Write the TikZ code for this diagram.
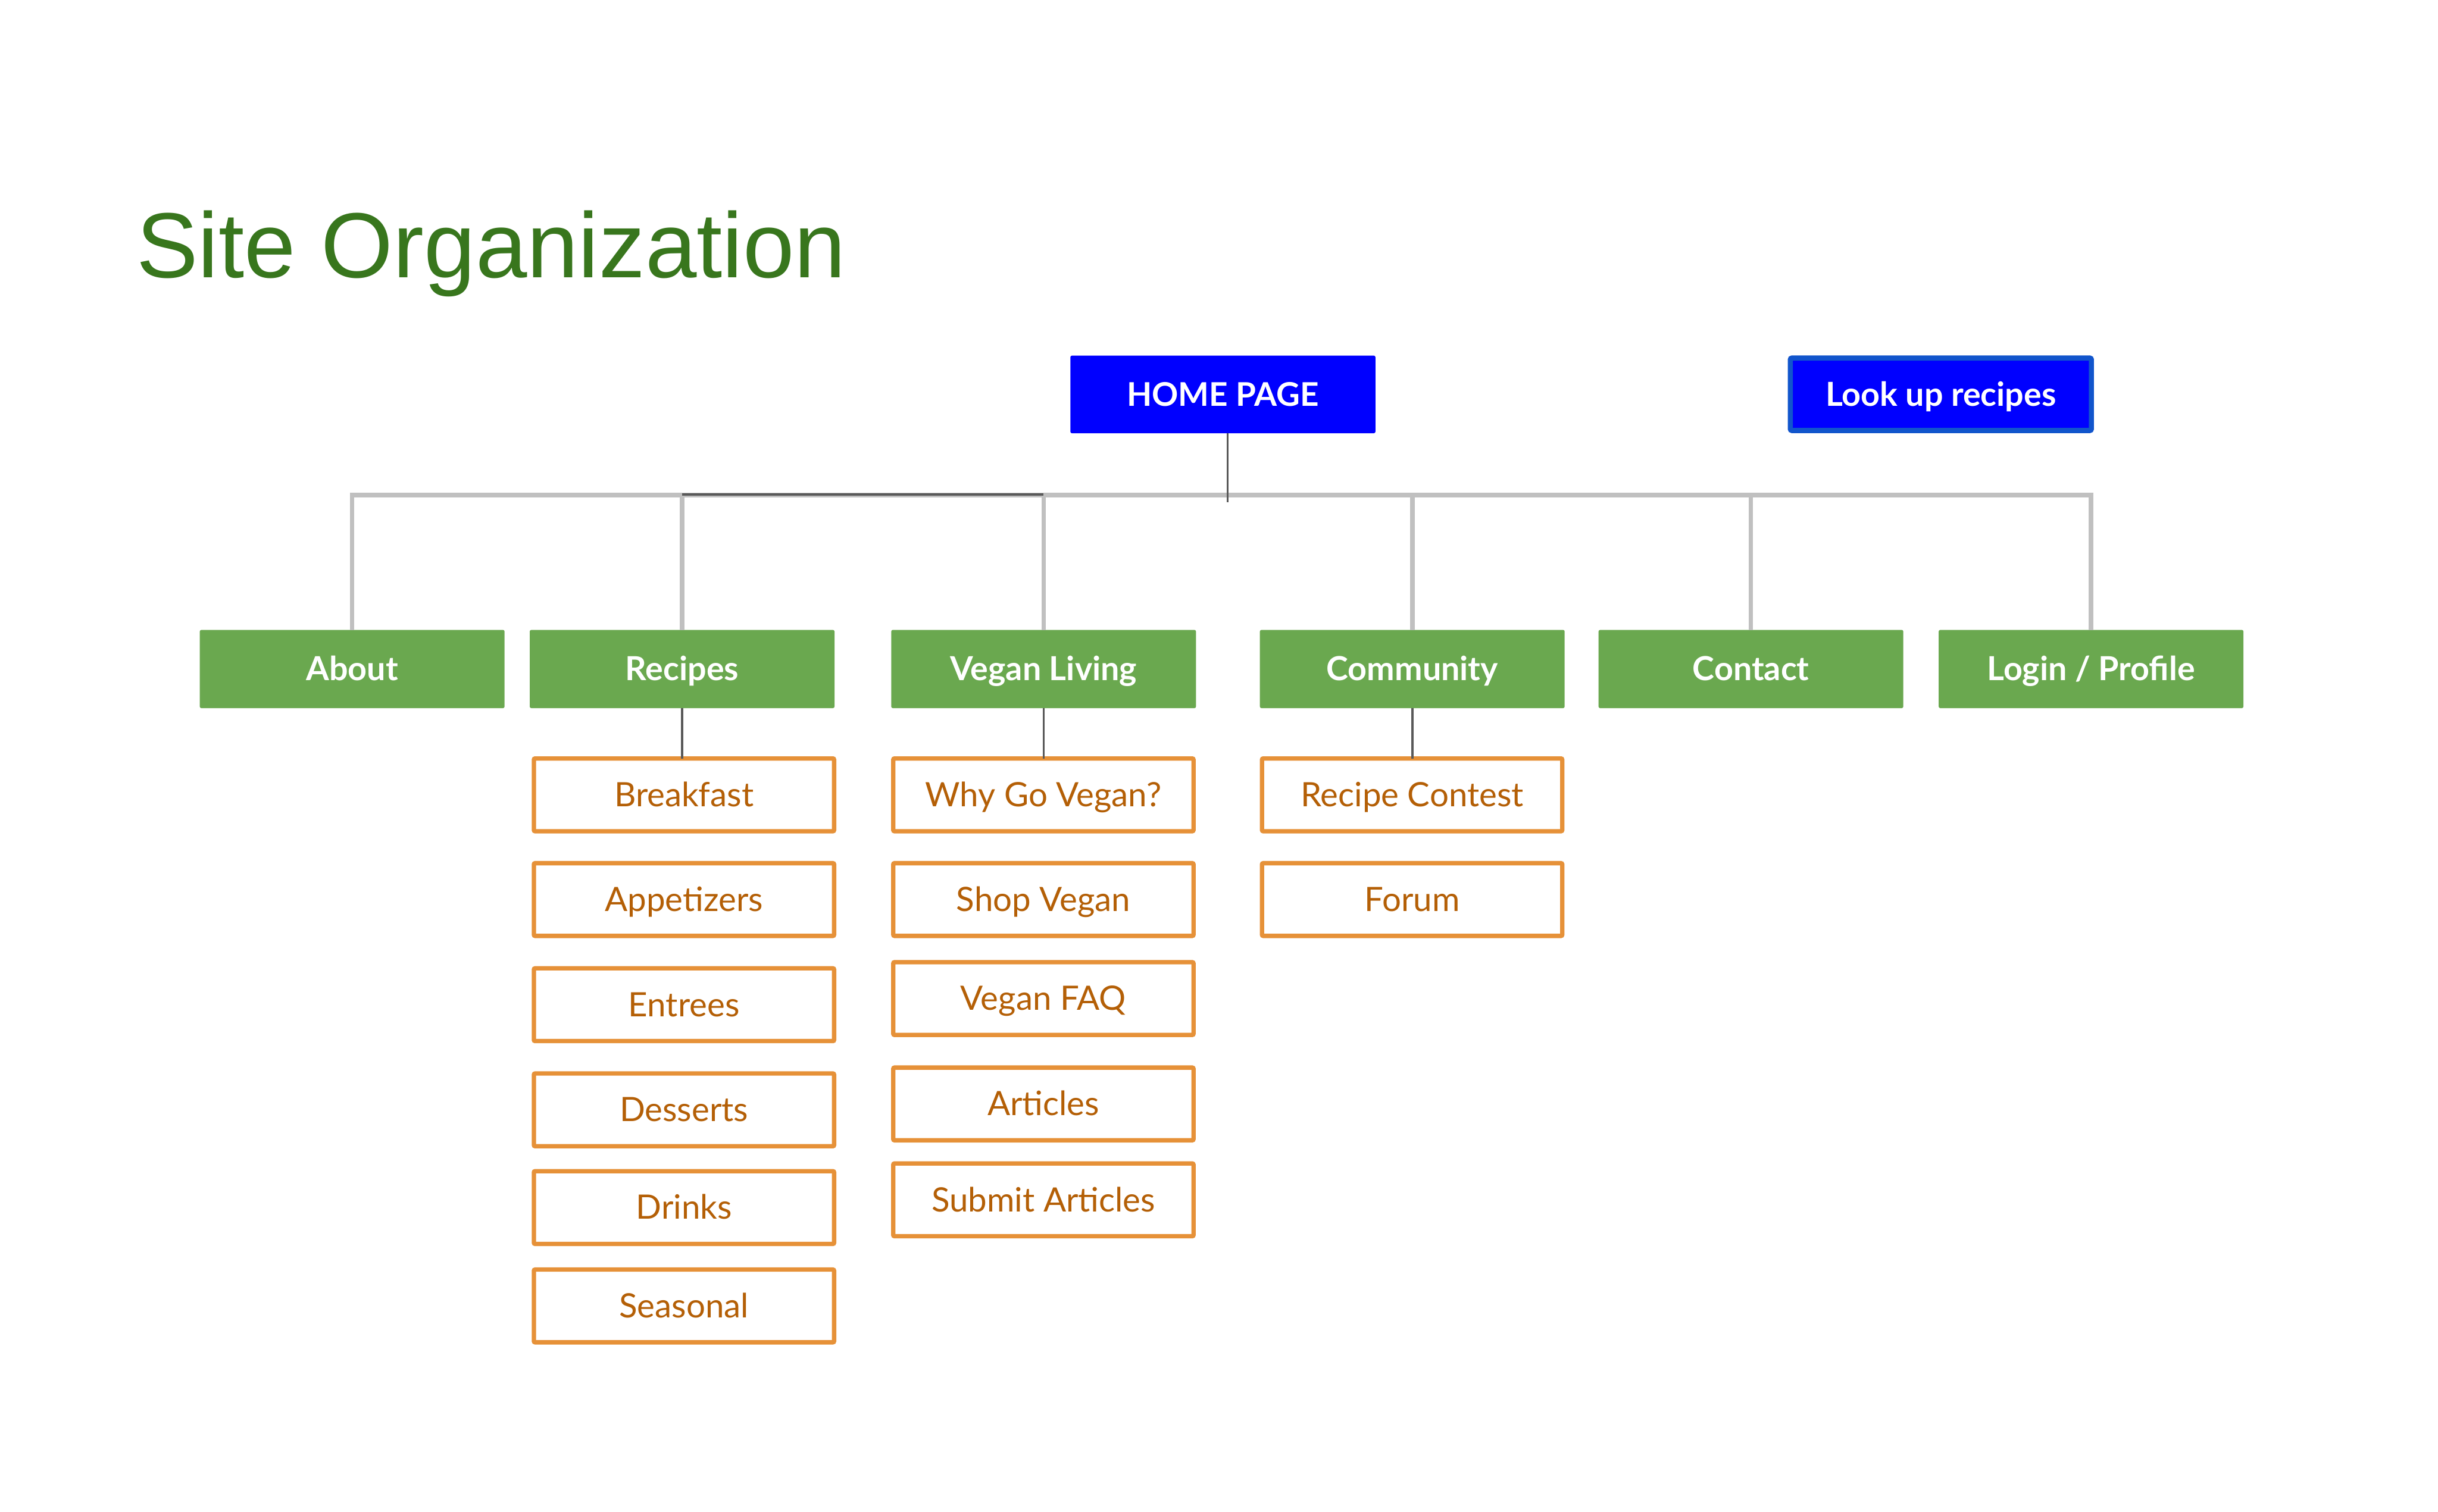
\documentclass[tikz,border=0pt]{standalone}
\usepackage{fontspec}
\setmainfont{Lato}
\newfontfamily\titlefont{Liberation Sans}
\usetikzlibrary{calc}
\definecolor{hpblue}{HTML}{0000FF}
\definecolor{lookborder}{HTML}{1155CC}
\definecolor{secgreen}{HTML}{6AA84F}
\definecolor{suborange}{HTML}{E69138}
\definecolor{subtext}{HTML}{B45F06}
\definecolor{busgray}{HTML}{C0C0C0}
\definecolor{linkdark}{HTML}{595959}
\definecolor{titlegreen}{HTML}{38761D}
\tikzset{
  basebox/.style={inner sep=0pt, outer sep=0pt, text height=15pt, text depth=0pt,
    font=\fontsize{21.6}{26}\selectfont},
  topbox/.style={basebox, fill=hpblue, text=white, minimum width=196.2pt, minimum height=49.9pt,
    rounded corners=1pt, font=\fontsize{21}{25}\selectfont\bfseries},
  lookbox/.style={basebox, fill=hpblue, draw=lookborder, line width=3.3pt, text=white,
    minimum width=193.6pt, minimum height=46.6pt, rounded corners=1pt,
    font=\fontsize{21.3}{25}\selectfont\bfseries},
  secbox/.style={basebox, fill=secgreen, text=white, minimum width=196pt, minimum height=50.3pt,
    rounded corners=1pt, font=\fontsize{21.3}{25}\selectfont\bfseries},
  subbox/.style={basebox, fill=white, draw=suborange, line width=2.8pt, text=subtext,
    minimum width=193.1pt, minimum height=46.8pt, rounded corners=0.8pt},
  busline/.style={draw=busgray, line width=2.9pt},
  darkline/.style={draw=linkdark, line width=1.4pt}
}
\begin{document}
\begin{tikzpicture}[x=1pt,y=-1pt]
\useasboundingbox[fill=white] (0,0) rectangle (1568,972.4);

\node[anchor=base west, inner sep=0pt, text=titlegreen,
  font=\titlefont\fontsize{59.5}{70}\selectfont] (title) at (87.5,178.5) {Site Organization};

% top level
\node[topbox] (home) at (786.5,253.75) {HOME PAGE};
\node[lookbox] (look) at (1248.25,253.65) {Look up recipes};

% sections
\node[secbox] (about) at (226.5,430.4) {About};
\node[secbox] (recipes) at (438.7,430.4) {Recipes};
\node[secbox] (vegan) at (671.2,430.4) {Vegan Living};
\node[secbox] (community) at (908.3,430.4) {Community};
\node[secbox] (contact) at (1126.1,430.4) {Contact};
\node[secbox] (login) at (1344.85,430.4) {Login / Profile};

% recipes children
\node[subbox] (breakfast) at (439.9,511.35) {Breakfast};
\node[subbox] (appetizers) at (439.9,578.7) {Appetizers};
\node[subbox] (entrees) at (439.9,646.35) {Entrees};
\node[subbox] (desserts) at (439.9,714) {Desserts};
\node[subbox] (drinks) at (439.9,776.85) {Drinks};
\node[subbox] (seasonal) at (439.9,840.15) {Seasonal};

% vegan living children
\node[subbox] (whygo) at (671.05,511.35) {Why Go Vegan?};
\node[subbox] (shop) at (671.05,578.7) {Shop Vegan};
\node[subbox] (faq) at (671.05,642.4) {Vegan FAQ};
\node[subbox] (articles) at (671.05,710.2) {Articles};
\node[subbox] (submit) at (671.05,771.9) {Submit Articles};

% community children
\node[subbox] (contest) at (908.2,511.35) {Recipe Contest};
\node[subbox] (forum) at (908.2,578.7) {Forum};

% connectors
\coordinate (bus) at (0,318.4);
\coordinate (darkbus) at (0,318.1);
\coordinate (hpend) at (789.6,323);

\draw[busline] (about.north) -- (about.north |- bus) -- (login.north |- bus) -- (login.north);
\foreach \n in {recipes,vegan,community,contact}
  \draw[busline] (\n.north) -- (\n.north |- bus);

\draw[darkline] (recipes.north |- darkbus) -- (vegan.north |- darkbus);
\draw[darkline] (hpend |- home.south) -- (hpend);

\draw[darkline] (recipes.south) -- (breakfast.north -| recipes.south);
\draw[darkline] (vegan.south) -- (whygo.north -| vegan.south);
\draw[darkline] (community.south) -- (contest.north -| community.south);
\end{tikzpicture}
\end{document}
